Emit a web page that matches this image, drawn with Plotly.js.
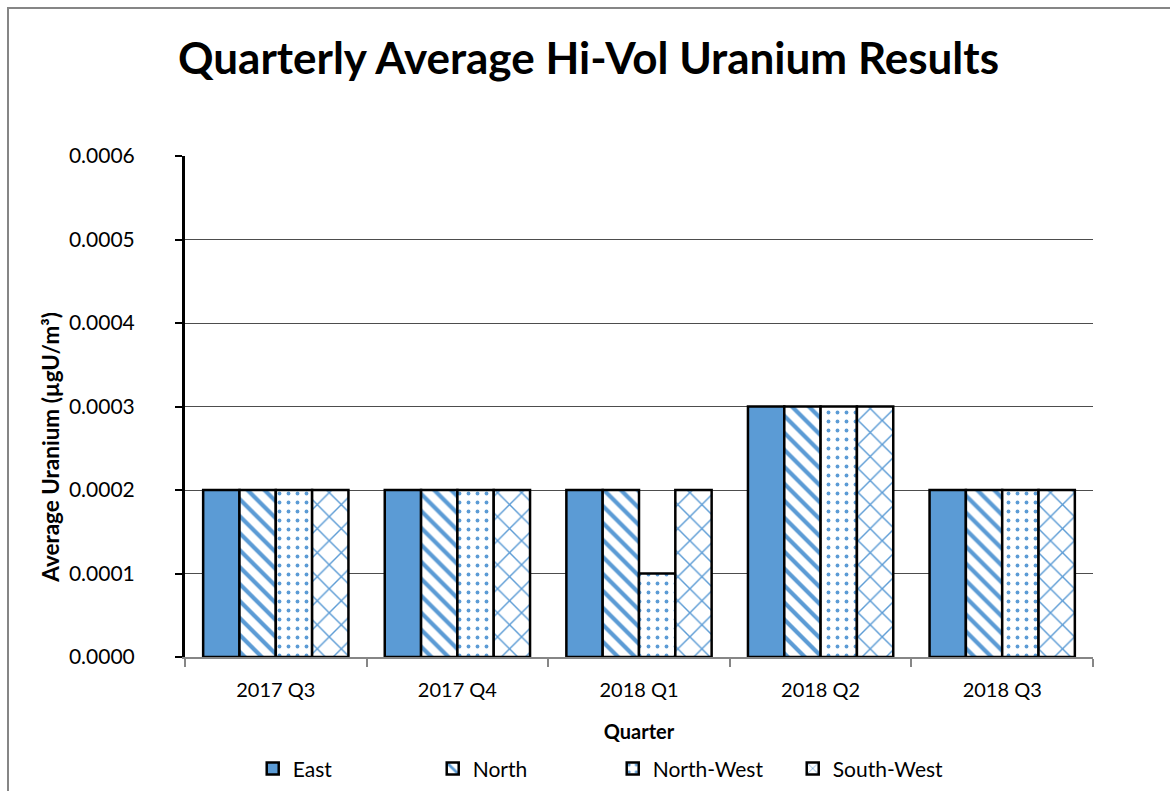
<!DOCTYPE html>
<html>
<head>
<meta charset="utf-8">
<script src="https://cdn.plot.ly/plotly-3.0.1.min.js"></script>
<style>
  html, body { margin: 0; padding: 0; background: #fff; overflow: hidden; }
  #chart { position: absolute; left: 0; top: 0; width: 1170px; height: 791px; }
  #frame {
    position: absolute; left: 7px; top: 7px; width: 1200px; height: 900px;
    border-left: 2px solid #868686; border-top: 2px solid #868686;
    pointer-events: none;
  }
</style>
</head>
<body>
<div id="chart"></div>
<div id="frame"></div>
<script>
const quarters = ["2017 Q3", "2017 Q4", "2018 Q1", "2018 Q2", "2018 Q3"];
const east = [0.0002, 0.0002, 0.0002, 0.0003, 0.0002];
const north = [0.0002, 0.0002, 0.0002, 0.0003, 0.0002];
const northWest = [0.0002, 0.0002, 0.0001, 0.0003, 0.0002];
const southWest = [0.0002, 0.0002, 0.0002, 0.0003, 0.0002];

const blue = "#5b9bd5";
const font = "Lato, 'Open Sans', sans-serif";

const series = [
  { name: "East", y: east, pattern: null },
  { name: "North", y: north, pattern: { shape: "\\", size: 12, solidity: 0.35 } },
  { name: "North-West", y: northWest, pattern: { shape: ".", size: 9, solidity: 0.14 } },
  { name: "South-West", y: southWest, pattern: { shape: "x", size: 17, solidity: 0.16 } },
];

const traces = series.map((s) => ({
  type: "bar",
  name: s.name,
  x: quarters,
  y: s.y,
  marker: {
    color: s.pattern ? "#ffffff" : blue,
    line: { color: "#000000", width: 2.5 },
    pattern: s.pattern
      ? { ...s.pattern, fgcolor: blue, bgcolor: "#ffffff", fillmode: "replace" }
      : undefined,
  },
  hovertemplate: s.name + "<br>%{x}: %{y:.4f}<extra></extra>",
}));

const layout = {
  width: 1170,
  height: 791,
  margin: { l: 185, r: 77, t: 156, b: 134 },
  paper_bgcolor: "#ffffff",
  plot_bgcolor: "#ffffff",
  font: { family: font, color: "#000", size: 20 },
  title: {
    text: "<b>Quarterly Average Hi-Vol Uranium Results</b>",
    font: { family: font, size: 44, color: "#000" },
    x: 0.503,
    xref: "container",
    xanchor: "center",
    y: 0.926,
    yref: "container",
    yanchor: "middle",
  },
  barmode: "group",
  bargap: 0.2,
  bargroupgap: 0,
  xaxis: {
    type: "category",
    automargin: false,
    title: { text: "<b>Quarter</b>", font: { size: 20 }, standoff: 25 },
    showline: true,
    linecolor: "#868686",
    linewidth: 2,
    ticks: "outside",
    tickson: "boundaries",
    ticklen: 8,
    tickcolor: "#868686",
    tickwidth: 2,
    tickfont: { size: 20 },
    ticklabelstandoff: 14,
    showgrid: false,
  },
  yaxis: {
    automargin: false,
    range: [0, 0.0006],
    dtick: 0.0001,
    tickformat: ".4f",
    showline: true,
    linecolor: "#000",
    linewidth: 3,
    ticks: "outside",
    ticklen: 7,
    tickcolor: "#000",
    tickwidth: 2,
    tickfont: { size: 21 },
    ticklabelstandoff: 36,
    showgrid: true,
    gridcolor: "#4d4d4d",
    gridwidth: 1,
    zeroline: false,
  },
  annotations: [
    {
      // y-axis title, placed off-centre like the original
      text: "<b>Average Uranium (µgU/m³)</b>",
      xref: "paper",
      yref: "paper",
      x: -0.149,
      y: 0.419,
      xanchor: "center",
      yanchor: "middle",
      textangle: -90,
      showarrow: false,
      font: { family: font, size: 22.5, color: "#000" },
    },
  ],
  legend: {
    orientation: "h",
    xref: "container",
    yref: "container",
    x: 0.216,
    xanchor: "left",
    y: 0.054,
    yanchor: "top",
    font: { size: 21 },
    itemwidth: 30,
    entrywidth: 135,
    entrywidthmode: "pixels",
    traceorder: "normal",
  },
};

Plotly.newPlot("chart", traces, layout, { displayModeBar: false });
</script>
</body>
</html>
